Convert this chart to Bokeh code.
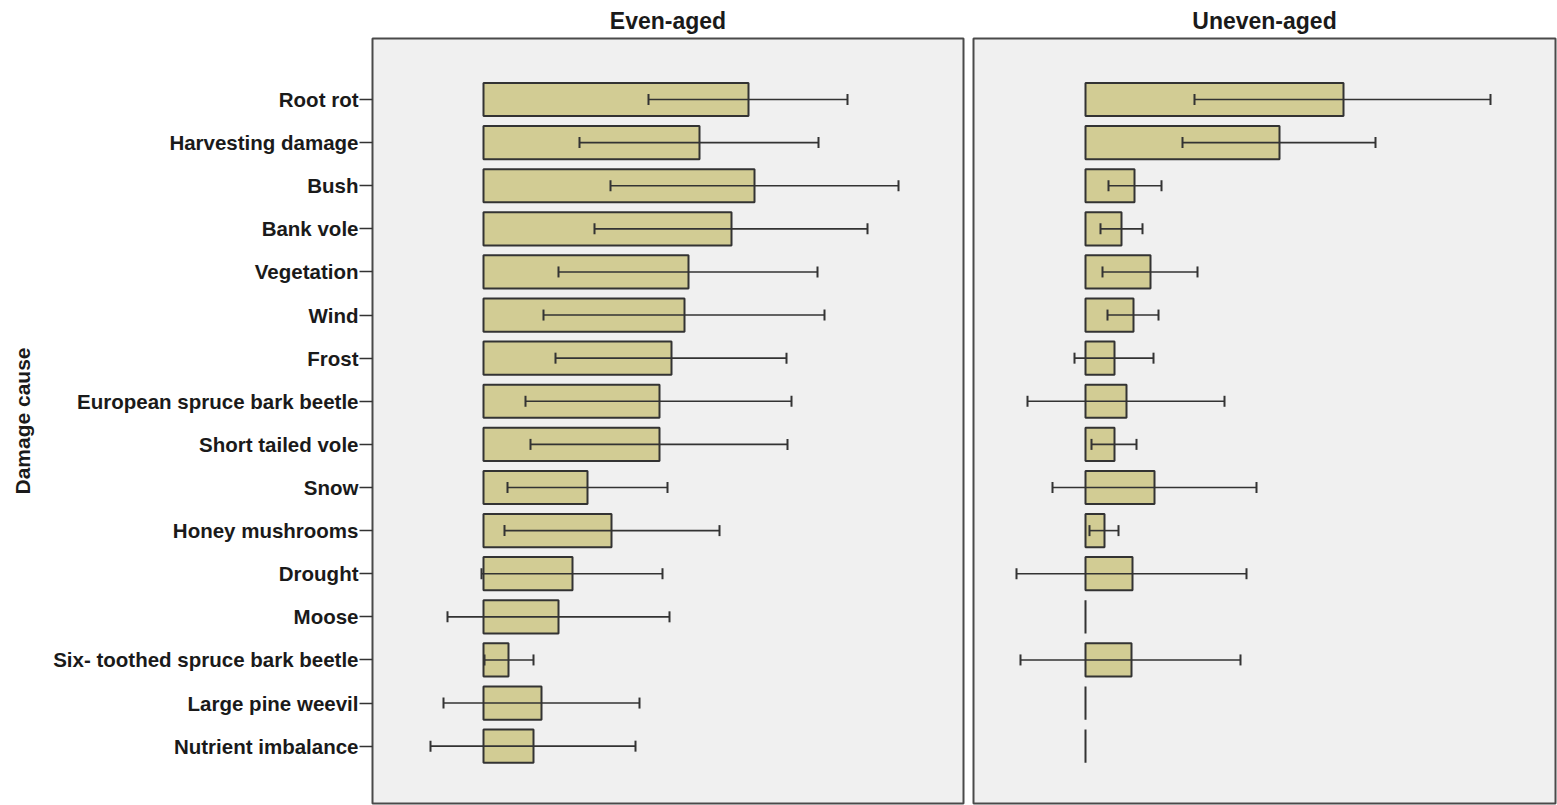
import math
from bokeh.plotting import figure
from bokeh.layouts import row
from bokeh.models import ColumnDataSource, Range1d, FixedTicker, Whisker, TeeHead
from bokeh.embed import file_html
from bokeh.resources import INLINE

# Damage causes, listed top to bottom
causes = [
    "Root rot", "Harvesting damage", "Bush", "Bank vole", "Vegetation", "Wind",
    "Frost", "European spruce bark beetle", "Short tailed vole", "Snow",
    "Honey mushrooms", "Drought", "Moose", "Six- toothed spruce bark beetle",
    "Large pine weevil", "Nutrient imbalance",
]

# Even-aged stands: mean and interval bounds
even_mean = [2.65, 2.16, 2.71, 2.48, 2.05, 2.01, 1.88, 1.76, 1.76, 1.04, 1.28, 0.89, 0.75, 0.25, 0.58, 0.50]
even_low = [1.65, 0.96, 1.27, 1.11, 0.75, 0.60, 0.72, 0.42, 0.47, 0.24, 0.21, -0.02, -0.36, 0.01, -0.40, -0.53]
even_high = [3.64, 3.35, 4.15, 3.84, 3.34, 3.41, 3.03, 3.08, 3.04, 1.84, 2.36, 1.79, 1.86, 0.50, 1.56, 1.52]

# Uneven-aged stands (no interval where the mean is zero)
nan = float("nan")
uneven_mean = [2.58, 1.94, 0.49, 0.36, 0.65, 0.48, 0.29, 0.41, 0.29, 0.69, 0.19, 0.47, 0.0, 0.46, 0.0, 0.0]
uneven_low = [1.09, 0.97, 0.23, 0.15, 0.17, 0.22, -0.11, -0.58, 0.06, -0.33, 0.04, -0.69, nan, -0.65, nan, nan]
uneven_high = [4.05, 2.90, 0.76, 0.57, 1.12, 0.73, 0.68, 1.39, 0.51, 1.71, 0.33, 1.61, nan, 1.55, nan, nan]

n = len(causes)
ypos = [n - i for i in range(n)]

FONT = "Liberation Sans"
BAR_FILL = "#d2cc94"
EDGE = "#333333"
PANEL_BG = "#f0f0f0"
HEIGHT = 805
Y_RANGE = (-0.33, n + 1.415)


def panel(title, means, lows, highs, x_range, width, border_left, show_y):
    p = figure(
        width=width, height=HEIGHT, output_backend="svg", toolbar_location=None,
        x_range=Range1d(*x_range), y_range=Range1d(*Y_RANGE),
        min_border_left=border_left, min_border_right=2 if not show_y else 5,
        min_border_top=38, min_border_bottom=2,
        background_fill_color=PANEL_BG, border_fill_color="white",
    )
    p.title.text = title
    p.title.align = "center"
    p.title.text_font = FONT
    p.title.text_font_style = "bold"
    p.title.text_font_size = "23px"
    p.title.text_color = "#1a1a1a"

    p.outline_line_color = "#4a4a4a"
    p.outline_line_width = 2
    p.grid.visible = False
    p.xaxis.visible = False

    bars = ColumnDataSource(dict(y=ypos, right=means))
    p.hbar(y="y", left=0, right="right", height=0.77, source=bars,
           fill_color=BAR_FILL, line_color=EDGE, line_width=2)

    keep = [i for i in range(n) if not math.isnan(lows[i])]
    err = ColumnDataSource(dict(
        y=[ypos[i] for i in keep],
        lower=[lows[i] for i in keep],
        upper=[highs[i] for i in keep],
    ))
    w = Whisker(base="y", lower="lower", upper="upper", dimension="width", source=err,
                line_color="#333333", line_width=1.6, level="overlay",
                lower_head=TeeHead(size=11, line_color="#333333", line_width=2),
                upper_head=TeeHead(size=11, line_color="#333333", line_width=2))
    p.add_layout(w)

    yax = p.yaxis[0]
    if show_y:
        yax.ticker = FixedTicker(ticks=ypos)
        yax.major_label_overrides = {y: c for y, c in zip(ypos, causes)}
        yax.minor_tick_line_color = None
        yax.major_tick_out = 13
        yax.major_tick_in = 0
        yax.major_tick_line_color = "#333333"
        yax.major_tick_line_width = 1.5
        yax.axis_line_color = None
        yax.major_label_standoff = 1
        yax.major_label_text_font = FONT
        yax.major_label_text_font_style = "bold"
        yax.major_label_text_font_size = "20.5px"
        yax.major_label_text_color = "#1a1a1a"
        yax.axis_label = "Damage cause"
        yax.axis_label_text_font = FONT
        yax.axis_label_text_font_style = "bold"
        yax.axis_label_text_font_size = "21px"
        yax.axis_label_text_color = "#1a1a1a"
        yax.axis_label_standoff = 16
    else:
        yax.visible = False
    return p


p1 = panel("Even-aged", even_mean, even_low, even_high, (-1.11, 4.80), 968, 372, True)
p2 = panel("Uneven-aged", uneven_mean, uneven_low, uneven_high, (-1.12, 4.70), 589, 5, False)

layout = row(p1, p2, spacing=0)
open("out.html", "w").write(file_html(layout, INLINE))
